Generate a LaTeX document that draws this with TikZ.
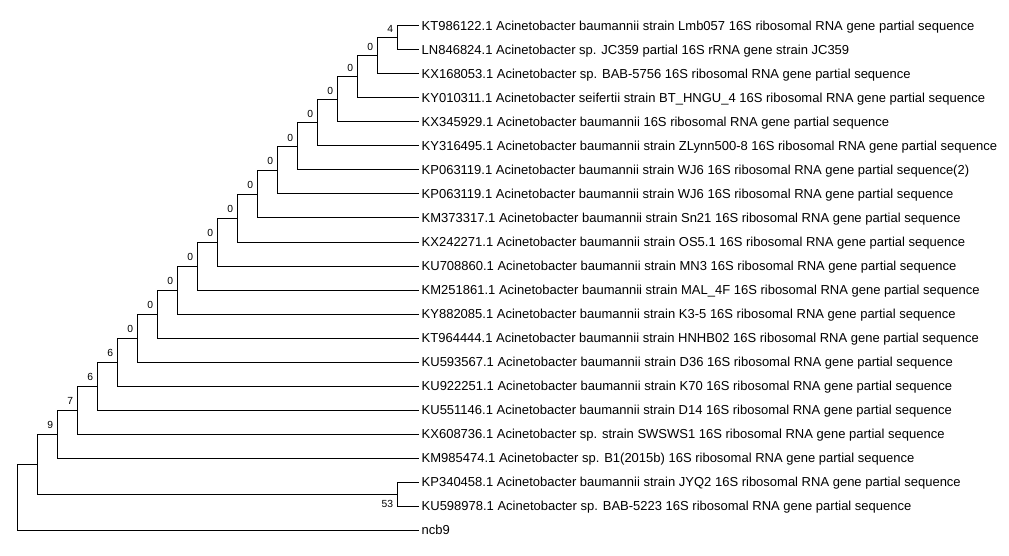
\documentclass[tikz,border=0pt]{standalone}
\usepackage{fontspec}
\setmainfont{Liberation Sans}
\begin{document}
\begin{tikzpicture}[x=1pt,y=-1pt,
  leaf/.style={anchor=west,inner xsep=3.5pt,inner ysep=0pt,text height=9.3pt,text depth=0pt,font=\fontsize{13}{15}\selectfont},
  br/.style={line width=1pt,line cap=rect},
  bsup/.style={anchor=south east,inner sep=0pt,font=\fontsize{10.3}{12}\selectfont},
  bsdn/.style={anchor=north east,inner sep=0pt,font=\fontsize{10.3}{12}\selectfont}]
\useasboundingbox (0,0) rectangle (1009,556);
% leaves
\node[leaf] (L0) at (418,26) {KT986122.1 Acinetobacter baumannii strain Lmb057 16S ribosomal RNA gene partial sequence};
\node[leaf] (L1) at (418,50) {LN846824.1 Acinetobacter sp. JC359 partial 16S rRNA gene strain JC359};
\node[leaf] (L2) at (418,74) {KX168053.1 Acinetobacter sp. BAB-5756 16S ribosomal RNA gene partial sequence};
\node[leaf] (L3) at (418,98) {KY010311.1 Acinetobacter seifertii strain BT\_HNGU\_4 16S ribosomal RNA gene partial sequence};
\node[leaf] (L4) at (418,122) {KX345929.1 Acinetobacter baumannii 16S ribosomal RNA gene partial sequence};
\node[leaf] (L5) at (418,146) {KY316495.1 Acinetobacter baumannii strain ZLynn500-8 16S ribosomal RNA gene partial sequence};
\node[leaf] (L6) at (418,170) {KP063119.1 Acinetobacter baumannii strain WJ6 16S ribosomal RNA gene partial sequence(2)};
\node[leaf] (L7) at (418,194) {KP063119.1 Acinetobacter baumannii strain WJ6 16S ribosomal RNA gene partial sequence};
\node[leaf] (L8) at (418,218) {KM373317.1 Acinetobacter baumannii strain Sn21 16S ribosomal RNA gene partial sequence};
\node[leaf] (L9) at (418,242) {KX242271.1 Acinetobacter baumannii strain OS5.1 16S ribosomal RNA gene partial sequence};
\node[leaf] (L10) at (418,266) {KU708860.1 Acinetobacter baumannii strain MN3 16S ribosomal RNA gene partial sequence};
\node[leaf] (L11) at (418,290) {KM251861.1 Acinetobacter baumannii strain MAL\_4F 16S ribosomal RNA gene partial sequence};
\node[leaf] (L12) at (418,314) {KY882085.1 Acinetobacter baumannii strain K3-5 16S ribosomal RNA gene partial sequence};
\node[leaf] (L13) at (418,338) {KT964444.1 Acinetobacter baumannii strain HNHB02 16S ribosomal RNA gene partial sequence};
\node[leaf] (L14) at (418,362) {KU593567.1 Acinetobacter baumannii strain D36 16S ribosomal RNA gene partial sequence};
\node[leaf] (L15) at (418,386) {KU922251.1 Acinetobacter baumannii strain K70 16S ribosomal RNA gene partial sequence};
\node[leaf] (L16) at (418,410) {KU551146.1 Acinetobacter baumannii strain D14 16S ribosomal RNA gene partial sequence};
\node[leaf] (L17) at (418,434) {KX608736.1 Acinetobacter sp. strain SWSWS1 16S ribosomal RNA gene partial sequence};
\node[leaf] (L18) at (418,458) {KM985474.1 Acinetobacter sp. B1(2015b) 16S ribosomal RNA gene partial sequence};
\node[leaf] (L19) at (418,482) {KP340458.1 Acinetobacter baumannii strain JYQ2 16S ribosomal RNA gene partial sequence};
\node[leaf] (L20) at (418,506) {KU598978.1 Acinetobacter sp. BAB-5223 16S ribosomal RNA gene partial sequence};
\node[leaf] (L21) at (418,530) {ncb9};
% internal nodes
\coordinate (n1) at (397.7,38);
\coordinate (n2) at (377.7,56);
\coordinate (n3) at (357.7,77);
\coordinate (n4) at (337.7,99.5);
\coordinate (n5) at (317.7,122.75);
\coordinate (n6) at (297.7,146.375);
\coordinate (n7) at (277.7,170.19);
\coordinate (n8) at (257.7,194.09);
\coordinate (n9) at (237.7,218.05);
\coordinate (n10) at (217.7,242.02);
\coordinate (n11) at (197.7,266.01);
\coordinate (n12) at (177.7,290);
\coordinate (n13) at (157.7,314);
\coordinate (n14) at (137.7,338);
\coordinate (n15) at (117.7,362);
\coordinate (n16) at (97.7,386);
\coordinate (n17) at (77.7,410);
\coordinate (n18) at (57.7,434);
\coordinate (m1) at (397.7,494);
\coordinate (n19) at (37.7,464);
\coordinate (root) at (17.7,497);
% branches
\draw[br] (n1) |- (L0.west);  \draw[br] (n1) |- (L1.west);
\draw[br] (n2) |- (n1);       \draw[br] (n2) |- (L2.west);
\draw[br] (n3) |- (n2);       \draw[br] (n3) |- (L3.west);
\draw[br] (n4) |- (n3);       \draw[br] (n4) |- (L4.west);
\draw[br] (n5) |- (n4);       \draw[br] (n5) |- (L5.west);
\draw[br] (n6) |- (n5);       \draw[br] (n6) |- (L6.west);
\draw[br] (n7) |- (n6);       \draw[br] (n7) |- (L7.west);
\draw[br] (n8) |- (n7);       \draw[br] (n8) |- (L8.west);
\draw[br] (n9) |- (n8);       \draw[br] (n9) |- (L9.west);
\draw[br] (n10) |- (n9);      \draw[br] (n10) |- (L10.west);
\draw[br] (n11) |- (n10);     \draw[br] (n11) |- (L11.west);
\draw[br] (n12) |- (n11);     \draw[br] (n12) |- (L12.west);
\draw[br] (n13) |- (n12);     \draw[br] (n13) |- (L13.west);
\draw[br] (n14) |- (n13);     \draw[br] (n14) |- (L14.west);
\draw[br] (n15) |- (n14);     \draw[br] (n15) |- (L15.west);
\draw[br] (n16) |- (n15);     \draw[br] (n16) |- (L16.west);
\draw[br] (n17) |- (n16);     \draw[br] (n17) |- (L17.west);
\draw[br] (n18) |- (n17);     \draw[br] (n18) |- (L18.west);
\draw[br] (m1) |- (L19.west); \draw[br] (m1) |- (L20.west);
\draw[br] (n19) |- (n18);     \draw[br] (n19) |- (m1);
\draw[br] (root) |- (n19);    \draw[br] (root) |- (L21.west);
% bootstrap values
\node[bsup] (b1) at ([xshift=-4.5pt,yshift=5pt]n1) {4};
\node[bsup] (b2) at ([xshift=-4.5pt,yshift=5pt]n2) {0};
\node[bsup] (b3) at ([xshift=-4.5pt,yshift=5pt]n3) {0};
\node[bsup] (b4) at ([xshift=-4.5pt,yshift=5pt]n4) {0};
\node[bsup] (b5) at ([xshift=-4.5pt,yshift=5pt]n5) {0};
\node[bsup] (b6) at ([xshift=-4.5pt,yshift=5pt]n6) {0};
\node[bsup] (b7) at ([xshift=-4.5pt,yshift=5pt]n7) {0};
\node[bsup] (b8) at ([xshift=-4.5pt,yshift=5pt]n8) {0};
\node[bsup] (b9) at ([xshift=-4.5pt,yshift=5pt]n9) {0};
\node[bsup] (b10) at ([xshift=-4.5pt,yshift=5pt]n10) {0};
\node[bsup] (b11) at ([xshift=-4.5pt,yshift=5pt]n11) {0};
\node[bsup] (b12) at ([xshift=-4.5pt,yshift=5pt]n12) {0};
\node[bsup] (b13) at ([xshift=-4.5pt,yshift=5pt]n13) {0};
\node[bsup] (b14) at ([xshift=-4.5pt,yshift=5pt]n14) {0};
\node[bsup] (b15) at ([xshift=-4.5pt,yshift=5pt]n15) {6};
\node[bsup] (b16) at ([xshift=-4.5pt,yshift=5pt]n16) {6};
\node[bsup] (b17) at ([xshift=-4.5pt,yshift=5pt]n17) {7};
\node[bsup] (b18) at ([xshift=-4.5pt,yshift=5pt]n18) {9};
\node[bsdn] (b19) at ([xshift=-4.5pt,yshift=-6.5pt]m1) {53};
\end{tikzpicture}
\end{document}
